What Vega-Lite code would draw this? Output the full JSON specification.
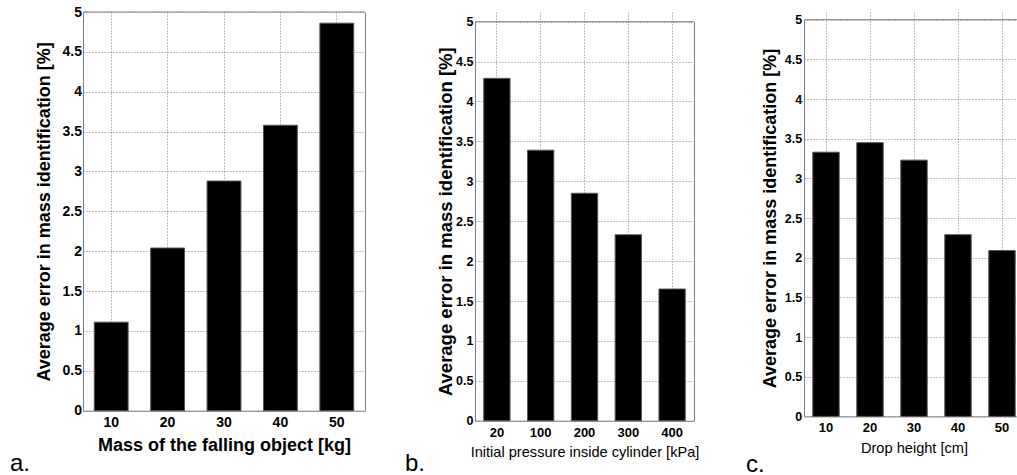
{
  "$schema": "https://vega.github.io/schema/vega-lite/v6.json",
  "background": "white",
  "padding": {"left": 10, "top": 5, "right": 0, "bottom": 0},
  "bounds": "flush",
  "spacing": 110,
  "config": {"view": {"stroke": null}},
  "datasets": {
    "a": [
      {"mass": 10, "error": 1.11},
      {"mass": 20, "error": 2.04},
      {"mass": 30, "error": 2.88},
      {"mass": 40, "error": 3.58},
      {"mass": 50, "error": 4.86}
    ],
    "b": [
      {"pressure": 20, "error": 4.29},
      {"pressure": 100, "error": 3.39},
      {"pressure": 200, "error": 2.85},
      {"pressure": 300, "error": 2.33},
      {"pressure": 400, "error": 1.65}
    ],
    "c": [
      {"height": 10, "error": 3.33},
      {"height": 20, "error": 3.45},
      {"height": 30, "error": 3.23},
      {"height": 40, "error": 2.29},
      {"height": 50, "error": 2.09}
    ]
  },
  "hconcat": [
    {
      "width": 282,
      "height": 398.7,
      "title": {"text": "a.", "orient": "bottom", "anchor": "start", "frame": "group", "dx": -73, "dy": -3, "offset": 0, "font": "Liberation Sans", "fontSize": 24, "fontWeight": "normal", "color": "black", "baseline": "top"},
      "layer": [
        {
          "data": {"name": "a"},
          "mark": {"type": "bar", "color": "black", "stroke": "#555555", "strokeWidth": 1},
          "encoding": {
            "x": {"field": "mass", "type": "ordinal", "scale": {"paddingInner": 0.4, "paddingOuter": 0.2},
              "axis": {"title": "Mass of the falling object [kg]", "labelAngle": 0, "grid": true, "bandPosition": 0.5, "gridColor": "#808080", "gridDash": [1, 2], "gridWidth": 1, "ticks": false, "tickSize": 0, "labelPadding": 5, "labelFont": "Liberation Sans", "labelFontSize": 14, "labelFontWeight": "bold", "labelColor": "black", "domainColor": "#7f7f7f", "titleFont": "Liberation Sans", "titleFontSize": 18, "titleFontWeight": "bold", "titleColor": "black", "titlePadding": 7}},
            "y": {"field": "error", "type": "quantitative", "scale": {"domain": [0, 5], "nice": false},
              "axis": {"title": "Average error in mass identification [%]", "values": [0, 0.5, 1, 1.5, 2, 2.5, 3, 3.5, 4, 4.5, 5], "format": "~g", "grid": true, "gridColor": "#808080", "gridDash": [1, 2], "gridWidth": 1, "ticks": false, "tickSize": 0, "labelPadding": 1.5, "labelFont": "Liberation Sans", "labelFontSize": 14, "labelFontWeight": "bold", "labelColor": "black", "domainColor": "#7f7f7f", "titleFont": "Liberation Sans", "titleFontSize": 18, "titleFontWeight": "bold", "titleColor": "black", "titlePadding": 9}}
          }
        },
        {
          "data": {"values": [{}]},
          "mark": {"type": "rule", "color": "#7f7f7f", "strokeWidth": 1},
          "encoding": {
            "y": {"datum": 5, "type": "quantitative", "axis": {"orient": "right", "labels": false, "ticks": false, "grid": false, "title": null, "domainColor": "#7f7f7f"}}
          }
        }
      ],
      "resolve": {"axis": {"y": "independent"}}
    },
    {
      "width": 219,
      "height": 408.7,
      "title": {"text": "b.", "orient": "bottom", "anchor": "start", "frame": "group", "dx": -70, "dy": -6.5, "offset": 0, "font": "Liberation Sans", "fontSize": 24, "fontWeight": "normal", "color": "black", "baseline": "top"},
      "layer": [
        {
          "data": {"name": "b"},
          "mark": {"type": "bar", "color": "black", "stroke": "#555555", "strokeWidth": 1},
          "encoding": {
            "x": {"field": "pressure", "type": "ordinal", "scale": {"paddingInner": 0.4, "paddingOuter": 0.2},
              "axis": {"title": "Initial pressure inside cylinder [kPa]", "labelAngle": 0, "grid": true, "bandPosition": 0.5, "gridColor": "#808080", "gridDash": [1, 2], "gridWidth": 1, "ticks": false, "tickSize": 0, "labelPadding": 6, "labelFont": "Liberation Sans", "labelFontSize": 13, "labelFontWeight": "bold", "labelColor": "black", "domainColor": "#7f7f7f", "titleFont": "Liberation Sans", "titleFontSize": 14.6, "titleFontWeight": "normal", "titleColor": "black", "titlePadding": 4.3}},
            "y": {"field": "error", "type": "quantitative", "scale": {"domain": [0, 5], "nice": false, "range": [408.7, 9.7]},
              "axis": {"title": "Average error in mass identification [%]", "values": [0, 0.5, 1, 1.5, 2, 2.5, 3, 3.5, 4, 4.5, 5], "format": "~g", "grid": true, "gridColor": "#808080", "gridDash": [1, 2], "gridWidth": 1, "ticks": false, "tickSize": 0, "labelPadding": 2, "labelFont": "Liberation Sans", "labelFontSize": 12.5, "labelFontWeight": "bold", "labelColor": "black", "domainColor": "#7f7f7f", "titleFont": "Liberation Sans", "titleFontSize": 18.5, "titleFontWeight": "bold", "titleColor": "black", "titlePadding": 0}}
          }
        },
        {
          "data": {"values": [{}]},
          "mark": {"type": "rule", "color": "#7f7f7f", "strokeWidth": 1},
          "encoding": {
            "y": {"datum": 5, "type": "quantitative", "axis": {"orient": "right", "labels": false, "ticks": false, "grid": false, "title": null, "domainColor": "#7f7f7f"}}
          }
        }
      ],
      "resolve": {"axis": {"y": "independent"}}
    },
    {
      "width": 220,
      "height": 404.4,
      "title": {"text": "c.", "orient": "bottom", "anchor": "start", "frame": "group", "dx": -58, "dy": -2, "offset": 0, "font": "Liberation Sans", "fontSize": 24, "fontWeight": "normal", "color": "black", "baseline": "top"},
      "layer": [
        {
          "data": {"name": "c"},
          "mark": {"type": "bar", "color": "black", "stroke": "#555555", "strokeWidth": 1},
          "encoding": {
            "x": {"field": "height", "type": "ordinal", "scale": {"paddingInner": 0.4, "paddingOuter": 0.2},
              "axis": {"title": "Drop height [cm]", "labelAngle": 0, "grid": true, "bandPosition": 0.5, "gridColor": "#808080", "gridDash": [1, 2], "gridWidth": 1, "ticks": false, "tickSize": 0, "labelPadding": 5.5, "labelFont": "Liberation Sans", "labelFontSize": 13, "labelFontWeight": "bold", "labelColor": "black", "domainColor": "#7f7f7f", "titleFont": "Liberation Sans", "titleFontSize": 14.6, "titleFontWeight": "normal", "titleColor": "black", "titlePadding": 5.5}},
            "y": {"field": "error", "type": "quantitative", "scale": {"domain": [0, 5], "nice": false, "range": [404.4, 7.7]},
              "axis": {"title": "Average error in mass identification [%]", "values": [0, 0.5, 1, 1.5, 2, 2.5, 3, 3.5, 4, 4.5, 5], "format": "~g", "grid": true, "gridColor": "#808080", "gridDash": [1, 2], "gridWidth": 1, "ticks": false, "tickSize": 0, "labelPadding": 2.4, "labelFont": "Liberation Sans", "labelFontSize": 12.5, "labelFontWeight": "bold", "labelColor": "black", "domainColor": "#7f7f7f", "titleFont": "Liberation Sans", "titleFontSize": 18, "titleFontWeight": "bold", "titleColor": "black", "titlePadding": 5}}
          }
        },
        {
          "data": {"values": [{}]},
          "mark": {"type": "rule", "color": "#7f7f7f", "strokeWidth": 1},
          "encoding": {
            "y": {"datum": 5, "type": "quantitative", "axis": {"orient": "right", "labels": false, "ticks": false, "grid": false, "title": null, "domainColor": "#7f7f7f"}}
          }
        }
      ],
      "resolve": {"axis": {"y": "independent"}}
    }
  ]
}
